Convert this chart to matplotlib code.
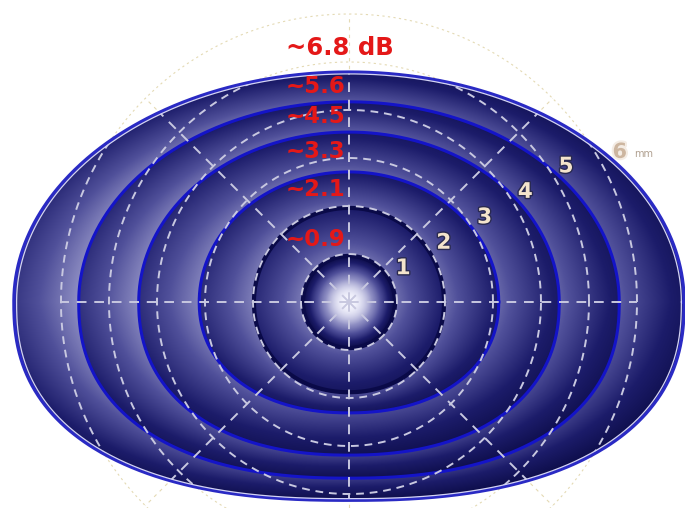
import numpy as np
import matplotlib.pyplot as plt
import matplotlib.patheffects as pe
from matplotlib.colors import LinearSegmentedColormap
from matplotlib.path import Path
from matplotlib.patches import PathPatch

# sensitivity contours: dB value of each band and the contour extents in mm
levels_db = ["~0.9", "~2.1", "~3.3", "~4.5", "~5.6", "~6.8 dB"]
half_width = [0.96, 1.98, 3.12, 4.38, 5.63, 6.98]
upper_reach = [0.96, 1.96, 2.71, 3.54, 4.17, 4.79]
lower_reach = [0.96, 1.88, 2.31, 3.19, 3.67, 4.13]
ring_mm = [1, 2, 3, 4, 5, 6]
ring_labels = ["1", "2", "3", "4", "5", "6"]

x0, x1, y0, y1 = -7.27, 7.0, -4.29, 6.29


def reach(theta, k):
    # upper half is an ellipse, lower half a flatter superellipse
    c, s = np.cos(theta), np.sin(theta)
    a = half_width[k]
    up = 1 / np.sqrt((c / a) ** 2 + (s / upper_reach[k]) ** 2)
    n = 2.0 + 0.08 * k
    dn = 1 / ((np.abs(c) / a) ** n + (np.abs(s) / lower_reach[k]) ** n) ** (1 / n)
    return np.where(s >= 0, up, dn)


def outline(k, scale=1.0, npts=720):
    th = np.linspace(0, 2 * np.pi, npts)
    r = reach(th, k) * scale
    return r * np.cos(th), r * np.sin(th)


fig = plt.figure(figsize=(6.85, 5.08), dpi=100)
ax = fig.add_axes([0, 0, 1, 1])
ax.set_xlim(x0, x1)
ax.set_ylim(y0, y1)
ax.set_aspect("equal")
ax.axis("off")

# shading of the bands: lighter on the inner side of each band
nx, ny = 1370, 1016
X, Y = np.meshgrid(np.linspace(x0, x1, nx), np.linspace(y0, y1, ny))
R = np.hypot(X, Y)
TH = np.arctan2(Y, X)
bounds = np.stack([np.zeros_like(R)] + [reach(TH, k) for k in range(6)])
band = np.clip((R[None] >= bounds[1:]).sum(axis=0), 0, 5)
inner = np.take_along_axis(bounds, band[None], 0)[0]
outer = np.take_along_axis(bounds, band[None] + 1, 0)[0]
t = np.clip((R - inner) / (outer - inner), 0, 1)

v = (0.72 - 0.34 * t - 0.014 * X
     - 0.022 * np.maximum(Y, 0) + 0.06 * np.minimum(Y, 0))
disk = 1.0 - 0.92 * t ** 2.2
v = np.where(band == 0, disk, v)
v = np.clip(v, 0, 1)

cmap = LinearSegmentedColormap.from_list(
    "field", [(0, "#06063a"), (0.35, "#1c1c6a"), (0.6, "#50509a"),
              (0.8, "#9090c4"), (1.0, "#f6f6ff")])

ox, oy = outline(5)
shape = PathPatch(Path(np.column_stack([ox, oy])), facecolor="none",
                  edgecolor="none", transform=ax.transData)
ax.add_patch(shape)

# faint grid outside the field
th = np.linspace(0, 2 * np.pi, 600)
for r in ring_mm:
    ax.plot(r * np.cos(th), r * np.sin(th), color="#e4dab4", lw=0.8,
            ls=(0, (2, 3)), zorder=1)
for ang in np.arange(0, 360, 45):
    a = np.radians(ang)
    ax.plot([0, ring_mm[-1] * np.cos(a)], [0, ring_mm[-1] * np.sin(a)],
            color="#e4dab4", lw=0.8, ls=(0, (3, 4)), zorder=1)

img = ax.imshow(v, cmap=cmap, vmin=0, vmax=1, origin="lower",
                extent=(x0, x1, y0, y1), interpolation="bilinear", zorder=2)
img.set_clip_path(shape)

# contour lines
for k in range(5):
    cx, cy = outline(k)
    if k < 2:
        ax.plot(cx, cy, color="#0a0a48", lw=3.0, zorder=3)
    else:
        ax.plot(cx, cy, color="#1414c8", lw=2.2, zorder=3)
ax.plot(ox, oy, color="#2a2ac4", lw=2.4, zorder=5)
rx, ry = outline(5, 0.992)
ax.plot(rx, ry, color="#d4d4f4", lw=0.9, zorder=5)

# grid inside the field
for r in ring_mm:
    ln, = ax.plot(r * np.cos(th), r * np.sin(th), color="#c8c8e0", lw=1.4,
                  ls=(0, (4, 3)), zorder=4)
    ln.set_clip_path(shape)
for ang in np.arange(0, 360, 45):
    a = np.radians(ang)
    ln, = ax.plot([0, ring_mm[-1] * np.cos(a)], [0, ring_mm[-1] * np.sin(a)],
                  color="#c8c8e0", lw=1.4, ls=(0, (5, 4)), zorder=4)
    ln.set_clip_path(shape)

# dB labels sitting in each band along the vertical
for i, lab in enumerate(levels_db):
    if i < 5:
        yy = 0.5 * (upper_reach[i] + upper_reach[i + 1])
        if i == 0:
            yy -= 0.15
        ax.text(-0.08, yy, lab, color="#e41818", fontsize=16.5,
                fontweight="bold", ha="right", va="center", zorder=6)
    else:
        ax.text(-0.2, upper_reach[-1] + 0.5, lab, color="#e41818",
                fontsize=17.5, fontweight="bold", ha="center", va="center",
                zorder=6)

# ring radii in mm
glow = [pe.withStroke(linewidth=2, foreground="#2a2a50")]
ang = np.radians(32)
for r, lab in zip(ring_mm[:-1], ring_labels[:-1]):
    ax.text((r + 0.33) * np.cos(ang), (r + 0.33) * np.sin(ang), lab,
            color="#f4e4cc", fontsize=15.5, fontweight="bold", ha="center",
            va="center", zorder=6, path_effects=glow)
ang6 = np.radians(29)
r6 = ring_mm[-1] + 0.45
ax.text(r6 * np.cos(ang6), r6 * np.sin(ang6), ring_labels[-1], color="#cdb6a0",
        fontsize=15, fontweight="bold", ha="center", va="center", zorder=6,
        path_effects=[pe.withStroke(linewidth=3, foreground="#f4ece4")])
ax.text(r6 * np.cos(ang6) + 0.3, r6 * np.sin(ang6) - 0.05, "mm",
        color="#b0a090", fontsize=7, ha="left", va="center", zorder=6)

fig.savefig("out.png", dpi=100)
